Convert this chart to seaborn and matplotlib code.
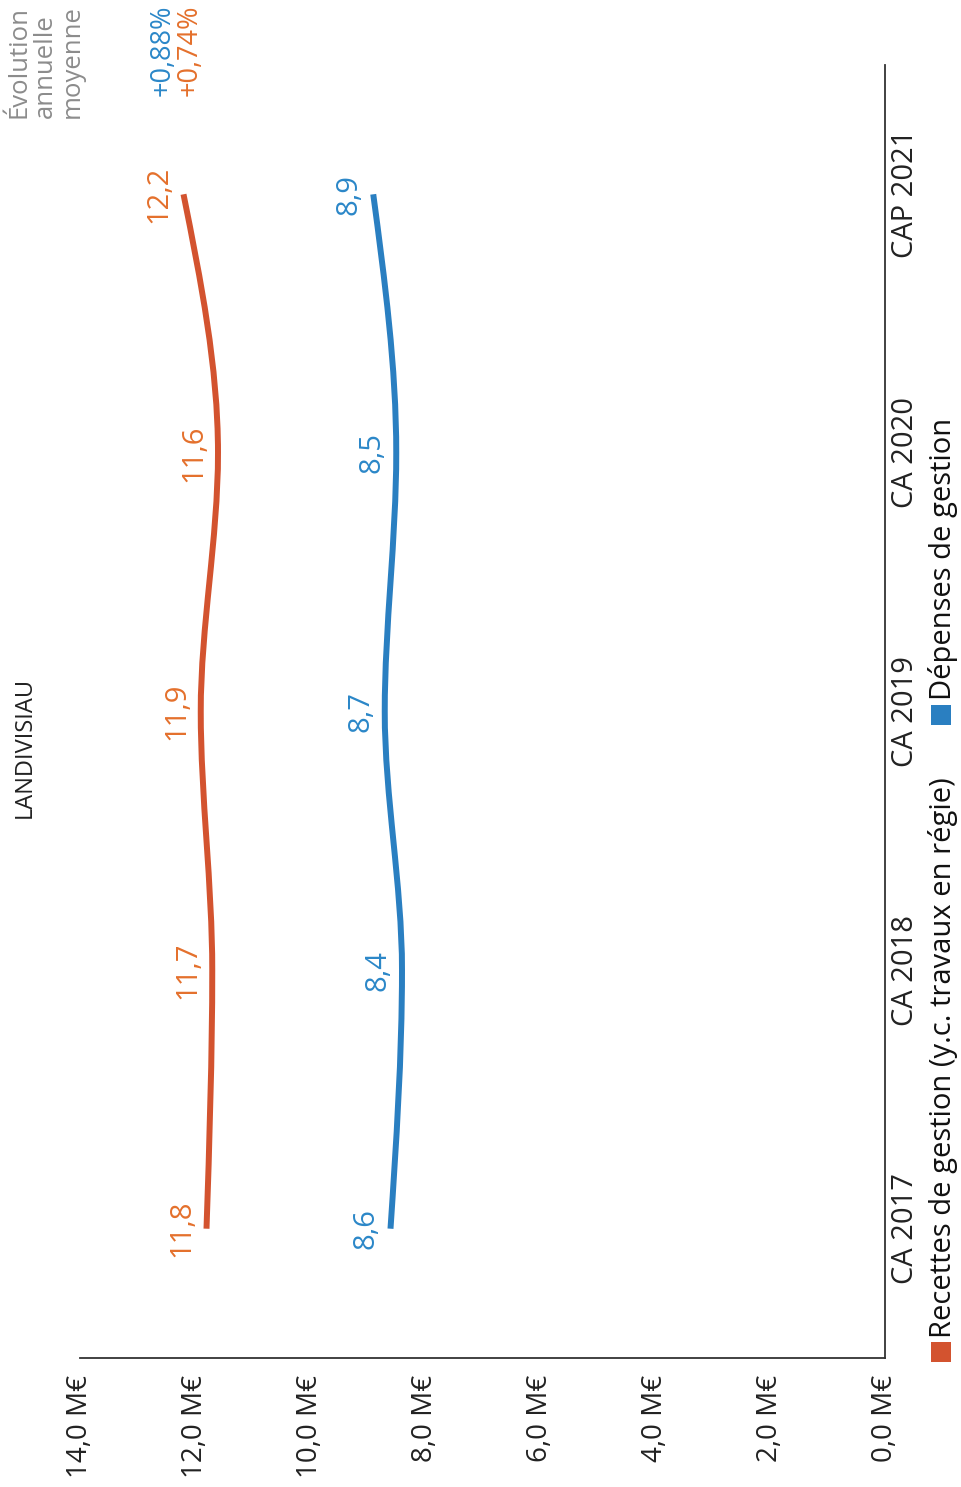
import numpy as np
import matplotlib
matplotlib.use("Agg")
import matplotlib.pyplot as plt
from matplotlib.path import Path
from matplotlib.patches import PathPatch, Rectangle
import seaborn as sns

# --- data -------------------------------------------------------------
categories = ["CA 2017", "CA 2018", "CA 2019", "CA 2020", "CAP 2021"]
recettes = [11.8, 11.7, 11.9, 11.6, 12.2]
depenses = [8.6, 8.4, 8.7, 8.5, 8.9]
value_ticks = [0, 2, 4, 6, 8, 10, 12, 14]
evol_recettes = "+0,74%"
evol_depenses = "+0,88%"
series_names = ["Recettes de gestion (y.c. travaux en régie)", "Dépenses de gestion"]

RED_LINE = "#d3532f"
RED_TEXT = "#e4702c"
BLUE_LINE = "#2a7fc1"
BLUE_TEXT = "#2b87c8"
GREY = "#8c8c8c"

sns.set_theme(style="white")
plt.rcParams["font.family"] = ["Open Sans", "DejaVu Sans"]

W, H = 962, 1487
fig = plt.figure(figsize=(W / 100, H / 100), dpi=100)
ax = fig.add_axes([80 / W, 1 - 1358 / H, 805 / W, 1293 / H])


def monotone_path(values):
    """Monotone cubic (Fritsch-Carlson) curve through the points, returned
    as a Bezier path with value on x and category index on y."""
    v = np.asarray(values, dtype=float)
    n = len(v)
    s = np.diff(v)
    m = np.zeros(n)
    for i in range(1, n - 1):
        p = (s[i - 1] + s[i]) / 2
        m[i] = (np.sign(s[i - 1]) + np.sign(s[i])) * min(abs(s[i - 1]), abs(s[i]), 0.5 * abs(p))
    m[0] = (3 * s[0] - m[1]) / 2
    m[-1] = (3 * s[-1] - m[-2]) / 2
    verts = [(v[0], 0.0)]
    codes = [Path.MOVETO]
    for i in range(n - 1):
        verts += [(v[i] + m[i] / 3, i + 1 / 3),
                  (v[i + 1] - m[i + 1] / 3, i + 2 / 3),
                  (v[i + 1], i + 1.0)]
        codes += [Path.CURVE4] * 3
    return Path(verts, codes)


for vals, lc, tc in [(recettes, RED_LINE, RED_TEXT), (depenses, BLUE_LINE, BLUE_TEXT)]:
    ax.add_patch(PathPatch(monotone_path(vals), facecolor="none", edgecolor=lc,
                           lw=4.3, capstyle="butt", joinstyle="round"))
    for i, val in enumerate(vals):
        ax.annotate(f"{val:.1f}".replace(".", ","), xy=(val, i), xytext=(-7, 0),
                    textcoords="offset points", rotation=90, ha="right", va="center",
                    color=tc, fontsize=21)

ax.set_xlim(14, 0)
ax.set_ylim(-0.5, len(categories) - 0.5)
ax.set_xticks(value_ticks)
ax.set_xticklabels([f"{t:.1f}".replace(".", ",") + " M€" for t in value_ticks],
                   rotation=90, va="top", ha="center", fontsize=20, color="#222222")
ax.yaxis.tick_right()
ax.set_yticks(range(len(categories)))
ax.set_yticklabels(categories, rotation=90, va="center", ha="left", fontsize=21,
                   color="#222222")
ax.tick_params(axis="x", length=0, pad=12)
ax.tick_params(axis="y", length=0, pad=4)
for side in ["top", "left"]:
    ax.spines[side].set_visible(False)
for side in ["bottom", "right"]:
    ax.spines[side].set_color("#333333")
    ax.spines[side].set_linewidth(1.3)
ax.grid(False)

# title and annual evolution note
fig.text(25 / W, 1 - 747 / H, "LANDIVISIAU", rotation=90, ha="center", va="center",
         fontsize=17, color="#222222")
fig.text(6 / W, 1 - 118 / H, "Évolution\nannuelle\nmoyenne", rotation=90,
         ha="left", va="bottom", fontsize=18.5, color=GREY, linespacing=1.1,
         multialignment="left")
fig.text(163 / W, 1 - 96 / H, evol_depenses, rotation=90, ha="center", va="bottom",
         fontsize=19.5, color=BLUE_TEXT)
fig.text(190 / W, 1 - 96 / H, evol_recettes, rotation=90, ha="center", va="bottom",
         fontsize=19.5, color=RED_TEXT)

# legend drawn along the right edge
for (y_sq, y_txt, col, name) in [(1342, 1338, RED_LINE, series_names[0]),
                                 (705, 700, BLUE_LINE, series_names[1])]:
    fig.patches.append(Rectangle((931 / W, 1 - (y_sq + 20) / H), 20 / W, 20 / H,
                                 transform=fig.transFigure, facecolor=col,
                                 edgecolor="none"))
    fig.text(943 / W, 1 - y_txt / H, name, rotation=90, ha="center", va="bottom",
             fontsize=21, color="#111111")

fig.savefig("out.png", dpi=100)
